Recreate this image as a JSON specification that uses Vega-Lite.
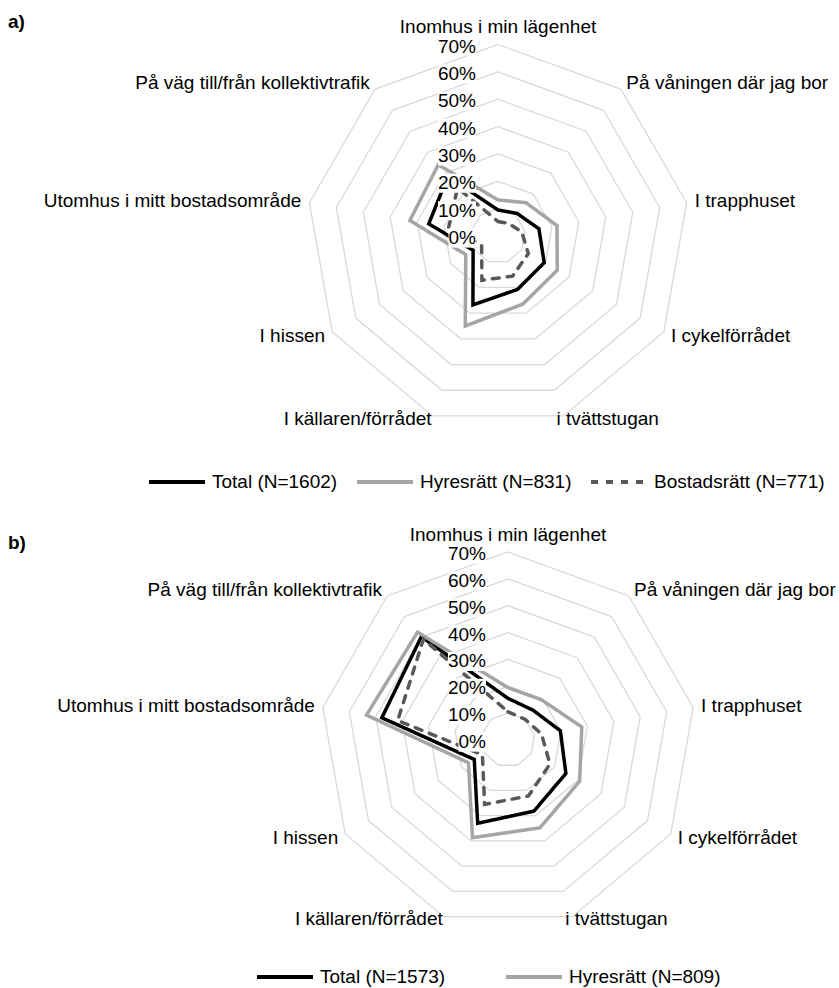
{
  "$schema": "https://vega.github.io/schema/vega-lite/v6.json",
  "padding": 0,
  "spacing": 0,
  "bounds": "flush",
  "background": "white",
  "config": {"view": {"stroke": null}, "font": "Liberation Sans"},
  "datasets": {
    "a": [
      {"category": "Inomhus i min lägenhet", "Total (N=1602)": 9.5, "Hyresrätt (N=831)": 13.2, "Bostadsrätt (N=771)": 5.3},
      {"category": "På våningen där jag bor", "Total (N=1602)": 10.8, "Hyresrätt (N=831)": 15.9, "Bostadsrätt (N=771)": 6.0},
      {"category": "I trapphuset", "Total (N=1602)": 15.2, "Hyresrätt (N=831)": 21.9, "Bostadsrätt (N=771)": 8.8},
      {"category": "I cykelförrådet", "Total (N=1602)": 19.5, "Hyresrätt (N=831)": 25.0, "Bostadsrätt (N=771)": 12.8},
      {"category": "i tvättstugan", "Total (N=1602)": 20.8, "Hyresrätt (N=831)": 26.5, "Bostadsrätt (N=771)": 15.6},
      {"category": "I källaren/förrådet", "Total (N=1602)": 26.8, "Hyresrätt (N=831)": 35.0, "Bostadsrätt (N=771)": 17.2},
      {"category": "I hissen", "Total (N=1602)": 10.5, "Hyresrätt (N=831)": 13.6, "Bostadsrätt (N=771)": 6.9},
      {"category": "Utomhus i mitt bostadsområde", "Total (N=1602)": 25.7, "Hyresrätt (N=831)": 32.7, "Bostadsrätt (N=771)": 18.3},
      {"category": "På väg till/från kollektivtrafik", "Total (N=1602)": 28.5, "Hyresrätt (N=831)": 34.0, "Bostadsrätt (N=771)": 23.0}
    ],
    "b": [
      {"category": "Inomhus i min lägenhet", "Total (N=1573)": 15.5, "Hyresrätt (N=809)": 19.5, "Bostadsrätt (N=764)": 10.5},
      {"category": "På våningen där jag bor", "Total (N=1573)": 14.5, "Hyresrätt (N=809)": 19.5, "Bostadsrätt (N=764)": 10.0},
      {"category": "I trapphuset", "Total (N=1573)": 19.8, "Hyresrätt (N=809)": 27.9, "Bostadsrätt (N=764)": 12.7},
      {"category": "I cykelförrådet", "Total (N=1573)": 24.9, "Hyresrätt (N=809)": 30.8, "Bostadsrätt (N=764)": 18.0},
      {"category": "i tvättstugan", "Total (N=1573)": 28.2, "Hyresrätt (N=809)": 34.8, "Bostadsrätt (N=764)": 22.2},
      {"category": "I källaren/förrådet", "Total (N=1573)": 33.0, "Hyresrätt (N=809)": 38.7, "Bostadsrätt (N=764)": 25.5},
      {"category": "I hissen", "Total (N=1573)": 14.5, "Hyresrätt (N=809)": 17.0, "Bostadsrätt (N=764)": 11.0},
      {"category": "Utomhus i mitt bostadsområde", "Total (N=1573)": 47.7, "Hyresrätt (N=809)": 53.5, "Bostadsrätt (N=764)": 41.7},
      {"category": "På väg till/från kollektivtrafik", "Total (N=1573)": 50.2, "Hyresrätt (N=809)": 52.4, "Bostadsrätt (N=764)": 49.0}
    ]
  },
  "vconcat": [
    {
      "width": 839,
      "height": 504,
      "title": {"text": "a)", "anchor": "start", "frame": "group", "fontSize": 19, "fontWeight": "bold", "font": "Liberation Sans", "color": "#000000", "offset": -32, "dx": 8},
      "layer": [
        {
          "data": {"name": "a"},
          "transform": [
            {"window": [{"op": "row_number", "as": "k"}]},
            {"calculate": "(datum.k - 1) * 2 * PI / 9", "as": "theta"},
            {"calculate": "[10, 20, 30, 40, 50, 60, 70]", "as": "levels"},
            {"flatten": ["levels"], "as": ["level"]},
            {"calculate": "datum.level * sin(datum.theta)", "as": "gx"},
            {"calculate": "datum.level * cos(datum.theta)", "as": "gy"}
          ],
          "mark": {"type": "line", "interpolate": "linear-closed", "color": "#D9D9D9", "strokeWidth": 1.3},
          "encoding": {
            "x": {"field": "gx", "type": "quantitative", "scale": {"domain": [-182.04, 124.65], "nice": false, "zero": false}, "axis": null},
            "y": {"field": "gy", "type": "quantitative", "scale": {"domain": [-97.96, 86.27], "nice": false, "zero": false}, "axis": null},
            "detail": {"field": "level", "type": "nominal"},
            "order": {"field": "k", "type": "quantitative"}
          }
        },
        {
          "data": {"name": "a"},
          "transform": [
            {"window": [{"op": "row_number", "as": "k"}]},
            {"calculate": "(datum.k - 1) * 2 * PI / 9", "as": "theta"},
            {"fold": ["Total (N=1602)", "Hyresrätt (N=831)", "Bostadsrätt (N=771)"], "as": ["series", "value"]},
            {"calculate": "datum.value * sin(datum.theta)", "as": "sx"},
            {"calculate": "datum.value * cos(datum.theta)", "as": "sy"}
          ],
          "mark": {"type": "line", "interpolate": "linear-closed", "strokeWidth": 3.5, "strokeCap": "round"},
          "encoding": {
            "x": {"field": "sx", "type": "quantitative", "scale": {"domain": [-182.04, 124.65], "nice": false, "zero": false}, "axis": null},
            "y": {"field": "sy", "type": "quantitative", "scale": {"domain": [-97.96, 86.27], "nice": false, "zero": false}, "axis": null},
            "color": {"field": "series", "type": "nominal",
              "scale": {"domain": ["Total (N=1602)", "Hyresrätt (N=831)", "Bostadsrätt (N=771)"], "range": ["#000000", "#A5A5A5", "#595959"]},
              "legend": {"title": null, "orient": "none", "legendX": 147, "legendY": 452, "direction": "horizontal", "symbolType": "stroke", "symbolSize": 3136, "symbolStrokeWidth": 4, "labelFontSize": 19, "labelFont": "Liberation Sans", "labelColor": "#000000", "labelOffset": 5, "columnPadding": 11, "padding": 0, "labelLimit": 500}},
            "strokeDash": {"field": "series", "type": "nominal",
              "scale": {"domain": ["Total (N=1602)", "Hyresrätt (N=831)", "Bostadsrätt (N=771)"], "range": [[1, 0], [1, 0], [7, 8]]},
              "legend": {"title": null, "orient": "none", "legendX": 147, "legendY": 452, "direction": "horizontal", "symbolType": "stroke", "symbolSize": 3136, "symbolStrokeWidth": 4, "labelFontSize": 19, "labelFont": "Liberation Sans", "labelColor": "#000000", "labelOffset": 5, "columnPadding": 11, "padding": 0, "labelLimit": 500}},
            "order": {"field": "k", "type": "quantitative"}
          }
        },
        {
          "data": {"name": "a"},
          "transform": [
            {"window": [{"op": "row_number", "as": "k"}]},
            {"filter": "datum.k == 1"},
            {"calculate": "[0, 10, 20, 30, 40, 50, 60, 70]", "as": "levels"},
            {"flatten": ["levels"], "as": ["level"]}
          ],
          "mark": {"type": "point", "filled": true, "color": "white", "opacity": 1, "strokeWidth": 0, "xOffset": -22, "yOffset": 2},
          "encoding": {
            "x": {"datum": 0, "type": "quantitative", "scale": {"domain": [-182.04, 124.65], "nice": false, "zero": false}, "axis": null},
            "y": {"field": "level", "type": "quantitative", "scale": {"domain": [-97.96, 86.27], "nice": false, "zero": false}, "axis": null},
            "shape": {"condition": {"test": "datum.level == 0", "value": "M-2,-0.7H0V0.7H-2Z"}, "value": "M-2,-0.5H0V0.5H-2Z"},
            "size": {"condition": {"test": "datum.level == 0", "value": 756}, "value": 1444}
          }
        },
        {
          "data": {"name": "a"},
          "transform": [
            {"window": [{"op": "row_number", "as": "k"}]},
            {"filter": "datum.k == 1"},
            {"calculate": "[0, 10, 20, 30, 40, 50, 60, 70]", "as": "levels"},
            {"flatten": ["levels"], "as": ["level"]},
            {"calculate": "datum.level + '%'", "as": "lab"}
          ],
          "mark": {"type": "text", "align": "right", "baseline": "middle", "dx": -22, "dy": 2, "fontSize": 19, "color": "#000000"},
          "encoding": {
            "x": {"datum": 0, "type": "quantitative", "scale": {"domain": [-182.04, 124.65], "nice": false, "zero": false}, "axis": null},
            "y": {"field": "level", "type": "quantitative", "scale": {"domain": [-97.96, 86.27], "nice": false, "zero": false}, "axis": null},
            "text": {"field": "lab"}
          }
        },
        {
          "data": {"name": "a"},
          "transform": [
            {"window": [{"op": "row_number", "as": "k"}]},
            {"calculate": "(datum.k - 1) * 2 * PI / 9", "as": "theta"},
            {"calculate": "datum.k == 1 ? 76.5 : (datum.k == 5 || datum.k == 6) ? 71 : 73", "as": "lr"},
            {"calculate": "datum.lr * sin(datum.theta)", "as": "lx"},
            {"calculate": "datum.lr * cos(datum.theta)", "as": "ly"}
          ],
          "encoding": {
            "x": {"field": "lx", "type": "quantitative", "scale": {"domain": [-182.04, 124.65], "nice": false, "zero": false}, "axis": null},
            "y": {"field": "ly", "type": "quantitative", "scale": {"domain": [-97.96, 86.27], "nice": false, "zero": false}, "axis": null},
            "text": {"field": "category"}
          },
          "layer": [
            {"transform": [{"filter": "datum.k == 1"}], "mark": {"type": "text", "align": "center", "baseline": "middle", "fontSize": 19, "color": "#000000"}},
            {"transform": [{"filter": "datum.k >= 2 && datum.k <= 4"}], "mark": {"type": "text", "align": "left", "baseline": "middle", "fontSize": 19, "color": "#000000"}},
            {"transform": [{"filter": "datum.k == 5"}], "mark": {"type": "text", "align": "left", "baseline": "middle", "dx": -8, "fontSize": 19, "color": "#000000"}},
            {"transform": [{"filter": "datum.k >= 6"}], "mark": {"type": "text", "align": "right", "baseline": "middle", "fontSize": 19, "color": "#000000"}}
          ]
        }
      ]
    },
    {
      "width": 839,
      "height": 484,
      "title": {"text": "b)", "anchor": "start", "frame": "group", "fontSize": 19, "fontWeight": "bold", "font": "Liberation Sans", "color": "#000000", "offset": -49, "dx": 8},
      "layer": [
        {
          "data": {"name": "b"},
          "transform": [
            {"window": [{"op": "row_number", "as": "k"}]},
            {"calculate": "(datum.k - 1) * 2 * PI / 9", "as": "theta"},
            {"calculate": "[10, 20, 30, 40, 50, 60, 70]", "as": "levels"},
            {"flatten": ["levels"], "as": ["level"]},
            {"calculate": "datum.level * sin(datum.theta)", "as": "gx"},
            {"calculate": "datum.level * cos(datum.theta)", "as": "gy"}
          ],
          "mark": {"type": "line", "interpolate": "linear-closed", "color": "#D9D9D9", "strokeWidth": 1.3},
          "encoding": {
            "x": {"field": "gx", "type": "quantitative", "scale": {"domain": [-189.15, 123.25], "nice": false, "zero": false}, "axis": null},
            "y": {"field": "gy", "type": "quantitative", "scale": {"domain": [-92.34, 87.87], "nice": false, "zero": false}, "axis": null},
            "detail": {"field": "level", "type": "nominal"},
            "order": {"field": "k", "type": "quantitative"}
          }
        },
        {
          "data": {"name": "b"},
          "transform": [
            {"window": [{"op": "row_number", "as": "k"}]},
            {"calculate": "(datum.k - 1) * 2 * PI / 9", "as": "theta"},
            {"fold": ["Total (N=1573)", "Hyresrätt (N=809)", "Bostadsrätt (N=764)"], "as": ["series", "value"]},
            {"calculate": "datum.value * sin(datum.theta)", "as": "sx"},
            {"calculate": "datum.value * cos(datum.theta)", "as": "sy"}
          ],
          "mark": {"type": "line", "interpolate": "linear-closed", "strokeWidth": 3.5, "strokeCap": "round"},
          "encoding": {
            "x": {"field": "sx", "type": "quantitative", "scale": {"domain": [-189.15, 123.25], "nice": false, "zero": false}, "axis": null},
            "y": {"field": "sy", "type": "quantitative", "scale": {"domain": [-92.34, 87.87], "nice": false, "zero": false}, "axis": null},
            "color": {"field": "series", "type": "nominal",
              "scale": {"domain": ["Total (N=1573)", "Hyresrätt (N=809)", "Bostadsrätt (N=764)"], "range": ["#000000", "#A5A5A5", "#595959"]},
              "legend": {"title": null, "orient": "none", "legendX": 255, "legendY": 443, "direction": "horizontal", "values": ["Total (N=1573)", "Hyresrätt (N=809)"], "symbolType": "stroke", "symbolSize": 3136, "symbolStrokeWidth": 4, "labelFontSize": 19, "labelFont": "Liberation Sans", "labelColor": "#000000", "labelOffset": 5, "columnPadding": 52, "padding": 0, "labelLimit": 500}},
            "strokeDash": {"field": "series", "type": "nominal",
              "scale": {"domain": ["Total (N=1573)", "Hyresrätt (N=809)", "Bostadsrätt (N=764)"], "range": [[1, 0], [1, 0], [7, 8]]},
              "legend": {"title": null, "orient": "none", "legendX": 255, "legendY": 443, "direction": "horizontal", "values": ["Total (N=1573)", "Hyresrätt (N=809)"], "symbolType": "stroke", "symbolSize": 3136, "symbolStrokeWidth": 4, "labelFontSize": 19, "labelFont": "Liberation Sans", "labelColor": "#000000", "labelOffset": 5, "columnPadding": 52, "padding": 0, "labelLimit": 500}},
            "order": {"field": "k", "type": "quantitative"}
          }
        },
        {
          "data": {"name": "b"},
          "transform": [
            {"window": [{"op": "row_number", "as": "k"}]},
            {"filter": "datum.k == 1"},
            {"calculate": "[0, 10, 20, 30, 40, 50, 60, 70]", "as": "levels"},
            {"flatten": ["levels"], "as": ["level"]}
          ],
          "mark": {"type": "point", "filled": true, "color": "white", "opacity": 1, "strokeWidth": 0, "xOffset": -22, "yOffset": 2},
          "encoding": {
            "x": {"datum": 0, "type": "quantitative", "scale": {"domain": [-189.15, 123.25], "nice": false, "zero": false}, "axis": null},
            "y": {"field": "level", "type": "quantitative", "scale": {"domain": [-92.34, 87.87], "nice": false, "zero": false}, "axis": null},
            "shape": {"condition": {"test": "datum.level == 0", "value": "M-2,-0.7H0V0.7H-2Z"}, "value": "M-2,-0.5H0V0.5H-2Z"},
            "size": {"condition": {"test": "datum.level == 0", "value": 756}, "value": 1444}
          }
        },
        {
          "data": {"name": "b"},
          "transform": [
            {"window": [{"op": "row_number", "as": "k"}]},
            {"filter": "datum.k == 1"},
            {"calculate": "[0, 10, 20, 30, 40, 50, 60, 70]", "as": "levels"},
            {"flatten": ["levels"], "as": ["level"]},
            {"calculate": "datum.level + '%'", "as": "lab"}
          ],
          "mark": {"type": "text", "align": "right", "baseline": "middle", "dx": -22, "dy": 2, "fontSize": 19, "color": "#000000"},
          "encoding": {
            "x": {"datum": 0, "type": "quantitative", "scale": {"domain": [-189.15, 123.25], "nice": false, "zero": false}, "axis": null},
            "y": {"field": "level", "type": "quantitative", "scale": {"domain": [-92.34, 87.87], "nice": false, "zero": false}, "axis": null},
            "text": {"field": "lab"}
          }
        },
        {
          "data": {"name": "b"},
          "transform": [
            {"window": [{"op": "row_number", "as": "k"}]},
            {"calculate": "(datum.k - 1) * 2 * PI / 9", "as": "theta"},
            {"calculate": "datum.k == 1 ? 76.5 : (datum.k == 5 || datum.k == 6) ? 71 : 73", "as": "lr"},
            {"calculate": "datum.lr * sin(datum.theta)", "as": "lx"},
            {"calculate": "datum.lr * cos(datum.theta)", "as": "ly"}
          ],
          "encoding": {
            "x": {"field": "lx", "type": "quantitative", "scale": {"domain": [-189.15, 123.25], "nice": false, "zero": false}, "axis": null},
            "y": {"field": "ly", "type": "quantitative", "scale": {"domain": [-92.34, 87.87], "nice": false, "zero": false}, "axis": null},
            "text": {"field": "category"}
          },
          "layer": [
            {"transform": [{"filter": "datum.k == 1"}], "mark": {"type": "text", "align": "center", "baseline": "middle", "fontSize": 19, "color": "#000000"}},
            {"transform": [{"filter": "datum.k >= 2 && datum.k <= 4"}], "mark": {"type": "text", "align": "left", "baseline": "middle", "fontSize": 19, "color": "#000000"}},
            {"transform": [{"filter": "datum.k == 5"}], "mark": {"type": "text", "align": "left", "baseline": "middle", "dx": -8, "fontSize": 19, "color": "#000000"}},
            {"transform": [{"filter": "datum.k >= 6"}], "mark": {"type": "text", "align": "right", "baseline": "middle", "fontSize": 19, "color": "#000000"}}
          ]
        }
      ]
    }
  ],
  "resolve": {
    "scale": {"x": "independent", "y": "independent", "color": "independent", "strokeDash": "independent", "shape": "independent", "size": "independent"},
    "legend": {"color": "independent", "strokeDash": "independent"}
  }
}
